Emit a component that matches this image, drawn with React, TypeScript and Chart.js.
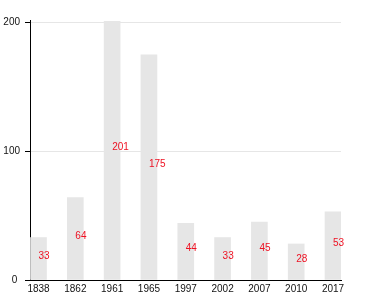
import React, { useEffect, useRef } from "react";
import { Chart, registerables } from "chart.js";

Chart.register(...registerables);

const categories = ["1838", "1862", "1961", "1965", "1997", "2002", "2007", "2010", "2017"];
const values = [33, 64, 201, 175, 44, 33, 45, 28, 53];
const yTicks = [0, 100, 200];

const FONT = "'Liberation Sans', Arial, Helvetica, sans-serif";

const valueLabels = {
  id: "valueLabels",
  afterDatasetsDraw(chart: any) {
    const ctx = chart.ctx;
    const meta = chart.getDatasetMeta(0);
    ctx.save();
    ctx.font = `10px ${FONT}`;
    ctx.fillStyle = "#ee1122";
    ctx.textAlign = "left";
    ctx.textBaseline = "alphabetic";
    meta.data.forEach((el: any, i: number) => {
      const y = (el.y + el.base) / 2;
      ctx.fillText(String(values[i]), el.x, y);
    });
    ctx.restore();
  },
};

export default function App() {
  const ref = useRef<HTMLCanvasElement>(null);
  useEffect(() => {
    if (!ref.current) return;
    const chart = new Chart(ref.current, {
      type: "bar",
      data: {
        datasets: [
          {
            data: values.map((v, i) => ({ x: i, y: v })),
            backgroundColor: "#e6e6e6",
            borderWidth: 0,
            barThickness: 16,
          },
        ],
      },
      options: {
        animation: false,
        responsive: false,
        layout: { padding: { left: 0, right: 39, top: 20, bottom: 0 } },
        plugins: { legend: { display: false }, tooltip: { enabled: false } },
        scales: {
          x: {
            type: "linear",
            offset: false,
            min: -0.231,
            max: 8.217,
            afterBuildTicks: (scale: any) => {
              scale.ticks = categories.map((_, i) => ({ value: i }));
            },
            afterFit: (scale: any) => {
              scale.height = 20;
            },
            grid: { display: false, drawTicks: false, offset: false },
            border: { color: "#000", width: 1 },
            ticks: {
              autoSkip: false,
              maxRotation: 0,
              padding: 3,
              color: "#111",
              font: { size: 10, family: FONT },
              callback: (v: any) => categories[v as number] ?? "",
            },
          },
          y: {
            min: 0,
            max: 202,
            afterBuildTicks: (scale: any) => {
              scale.ticks = yTicks.map((v) => ({ value: v }));
            },
            afterFit: (scale: any) => {
              scale.width = 30;
            },
            grid: { color: "#e6e6e6", tickColor: "#000", tickLength: 5, lineWidth: 1 },
            border: { color: "#000", width: 1 },
            ticks: {
              padding: 5,
              color: "#111",
              font: { size: 10, family: FONT },
              callback: (v: any) => (v === 0 ? "0 " : String(v)),
            },
          },
        },
      },
      plugins: [valueLabels],
    });
    return () => chart.destroy();
  }, []);
  return (
    <div style={{ position: "absolute", left: 0, top: 0, width: 380, height: 300 }}>
      <canvas ref={ref} width={380} height={300} />
    </div>
  );
}
